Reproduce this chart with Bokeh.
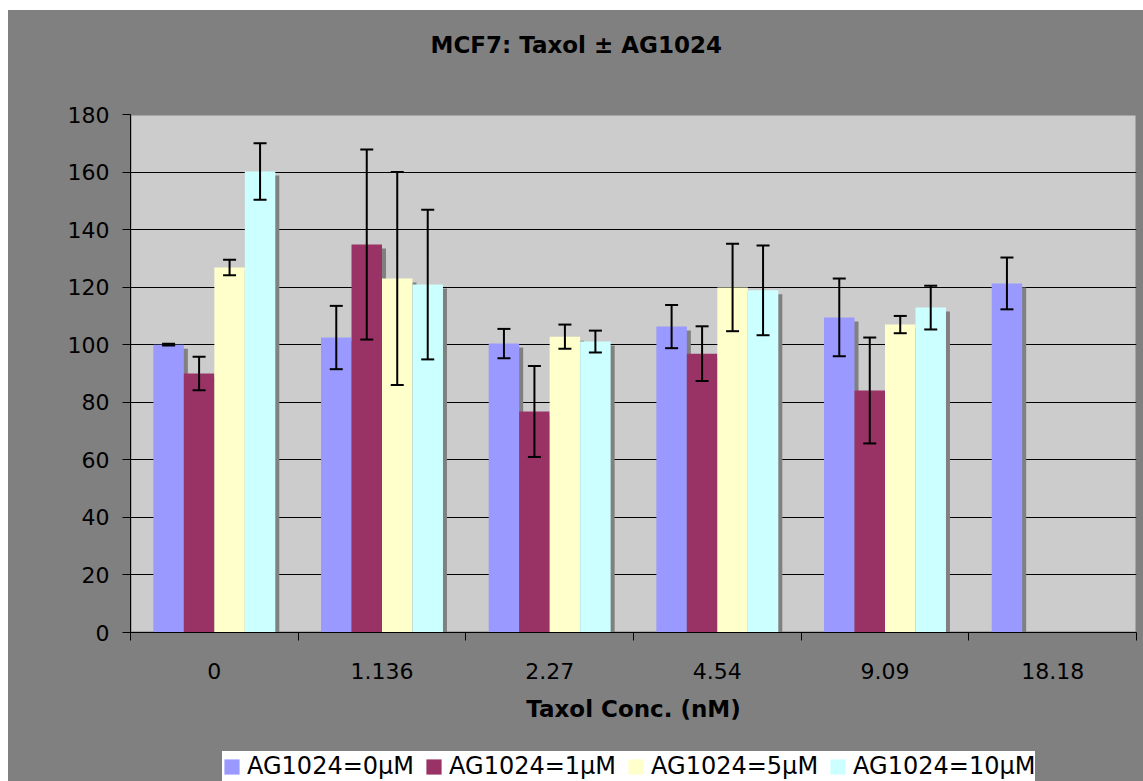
import numpy as np
from bokeh.plotting import figure
from bokeh.layouts import column
from bokeh.models import (ColumnDataSource, FixedTicker, Whisker, TeeHead, Legend,
                          LegendItem, Title, CustomJSTickFormatter)
from bokeh.embed import file_html
from bokeh.resources import INLINE

nan = float("nan")

# ---- data ----
categories = ["0", "1.136", "2.27", "4.54", "9.09", "18.18"]
series_names = ["AG1024=0μM", "AG1024=1μM", "AG1024=5μM", "AG1024=10μM"]
ag0 = [100.0, 102.5, 100.4, 106.3, 109.5, 121.3]
ag0_err = [0.3, 11.0, 5.1, 7.5, 13.5, 9.0]
ag1 = [90.0, 134.8, 76.8, 96.9, 84.1, nan]
ag1_err = [5.8, 33.0, 15.8, 9.5, 18.4, nan]
ag5 = [126.8, 123.0, 102.8, 119.9, 107.0, nan]
ag5_err = [2.7, 37.0, 4.2, 15.2, 3.0, nan]
ag10 = [160.2, 120.9, 101.1, 118.9, 112.9, nan]
ag10_err = [9.8, 26.0, 3.8, 15.6, 7.6, nan]
y_ticks = [0, 20, 40, 60, 80, 100, 120, 140, 160, 180]

series_values = [ag0, ag1, ag5, ag10]
series_errors = [ag0_err, ag1_err, ag5_err, ag10_err]
colors = ["#9999FF", "#993366", "#FFFFCC", "#CCFFFF"]

FONT = "DejaVu Sans"
OUTER = "#808080"
W = 1135

# ---- title strip ----
H_T = 80
pt = figure(width=W, height=H_T, x_range=(0, 1), y_range=(0, 1),
            output_backend="svg", toolbar_location=None,
            x_axis_type=None, y_axis_type=None,
            min_border_left=0, min_border_right=0, min_border_top=0, min_border_bottom=0,
            background_fill_color=OUTER, border_fill_color=OUTER, outline_line_color=None)
pt.grid.visible = False
pt.title = Title(text="MCF7:  Taxol ± AG1024", align="left", offset=300,
                 vertical_align="top", standoff=42, text_font=FONT,
                 text_font_style="bold", text_font_size="23px", text_color="black")

# ---- main chart ----
H_M = 644
BL, BR, BT, BB = 122, 7, 24, 102
p = figure(width=W, height=H_M, x_range=(0, len(categories)), y_range=(0, 180),
           output_backend="svg", toolbar_location=None,
           min_border_left=BL, min_border_right=BR, min_border_top=BT, min_border_bottom=BB,
           background_fill_color="#CCCCCC", border_fill_color=OUTER,
           outline_line_color=OUTER, outline_line_width=2)

frame_w = W - BL - BR
frame_h = H_M - BT - BB
px_x = frame_w / len(categories)
px_y = frame_h / 180.0
shadow_dx = 4 / px_x
shadow_dy = 4 / px_y

n = len(series_names)
bw = 1.0 / (n + 1.5)   # gap width 150%

sources = []
for i in range(n):
    vals = np.array(series_values[i], dtype=float)
    errs = np.array(series_errors[i], dtype=float)
    mask = ~np.isnan(vals)
    xs = np.arange(len(categories)) + 0.5 + (i - (n - 1) / 2) * bw
    src = ColumnDataSource(dict(
        x=xs[mask], top=vals[mask],
        upper=(vals + errs)[mask], lower=(vals - errs)[mask],
        sx=xs[mask] + shadow_dx, stop=vals[mask] - shadow_dy))
    sources.append(src)

for src in sources:
    p.vbar(x="sx", top="stop", bottom=0, width=bw, source=src,
           fill_color=OUTER, line_color=None)

for i, src in enumerate(sources):
    p.vbar(x="x", top="top", bottom=0, width=bw, source=src,
           fill_color=colors[i], line_color=None)

for src in sources:
    w = Whisker(source=src, base="x", upper="upper", lower="lower", level="annotation",
                line_color="black", line_width=2,
                upper_head=TeeHead(size=13, line_color="black", line_width=2),
                lower_head=TeeHead(size=13, line_color="black", line_width=2))
    p.add_layout(w)

p.xgrid.visible = False
p.ygrid.ticker = FixedTicker(ticks=y_ticks)
p.ygrid.grid_line_color = "black"
p.ygrid.grid_line_width = 1

p.yaxis.ticker = FixedTicker(ticks=y_ticks, minor_ticks=[])
p.yaxis.major_tick_out = 8
p.yaxis.major_tick_in = 0
p.yaxis.major_tick_line_color = "black"
p.yaxis.axis_line_color = "black"
p.yaxis.major_label_standoff = 13
p.yaxis.major_label_text_font = FONT
p.yaxis.major_label_text_font_size = "22px"
p.yaxis.major_label_text_color = "black"

centers = [k + 0.5 for k in range(len(categories))]
bounds = list(range(len(categories) + 1))
p.xaxis.ticker = FixedTicker(ticks=centers, minor_ticks=bounds)
p.xaxis.formatter = CustomJSTickFormatter(args=dict(labels=categories),
                                          code="return labels[Math.floor(tick)];")
p.xaxis.major_tick_out = 0
p.xaxis.major_tick_in = 0
p.xaxis.minor_tick_out = 8
p.xaxis.minor_tick_in = 0
p.xaxis.minor_tick_line_color = "black"
p.xaxis.axis_line_color = "black"
p.xaxis.major_label_standoff = 22
p.xaxis.major_label_text_font = FONT
p.xaxis.major_label_text_font_size = "22px"
p.xaxis.major_label_text_color = "black"
p.xaxis.axis_label = "Taxol Conc. (nM)"
p.xaxis.axis_label_text_font = FONT
p.xaxis.axis_label_text_font_style = "bold"
p.xaxis.axis_label_text_font_size = "23px"
p.xaxis.axis_label_text_color = "black"
p.xaxis.axis_label_standoff = 14

# ---- legend strip ----
H_L = 47
pl = figure(width=W, height=H_L, x_range=(0, 1), y_range=(0, 1),
            output_backend="svg", toolbar_location=None,
            x_axis_type=None, y_axis_type=None,
            min_border_left=0, min_border_right=0, min_border_top=0, min_border_bottom=0,
            background_fill_color=OUTER, border_fill_color=OUTER, outline_line_color=None)
pl.grid.visible = False
# legend proxies share the series data; they are hidden, only their legend swatches show
leg_renderers = [pl.vbar(x="x", top="top", bottom=0, width=bw, source=sources[i],
                         fill_color=colors[i], line_color=None, visible=False)
                 for i in range(n)]
legend = Legend(items=[LegendItem(label=series_names[i], renderers=[leg_renderers[i]])
                       for i in range(n)],
                location=(92, 0), orientation="horizontal",
                background_fill_color="white", background_fill_alpha=1.0,
                border_line_color=None, padding=16, margin=0, spacing=10,
                glyph_width=19, glyph_height=19, label_standoff=6, label_height=30,
                label_text_font=FONT, label_text_font_size="24px",
                label_text_color="black")
pl.add_layout(legend)

layout = column(pt, p, pl, spacing=0)
layout.margin = (10, 0, 0, 8)
layout.styles = {"background-color": OUTER}

open("out.html", "w").write(file_html(layout, INLINE))
